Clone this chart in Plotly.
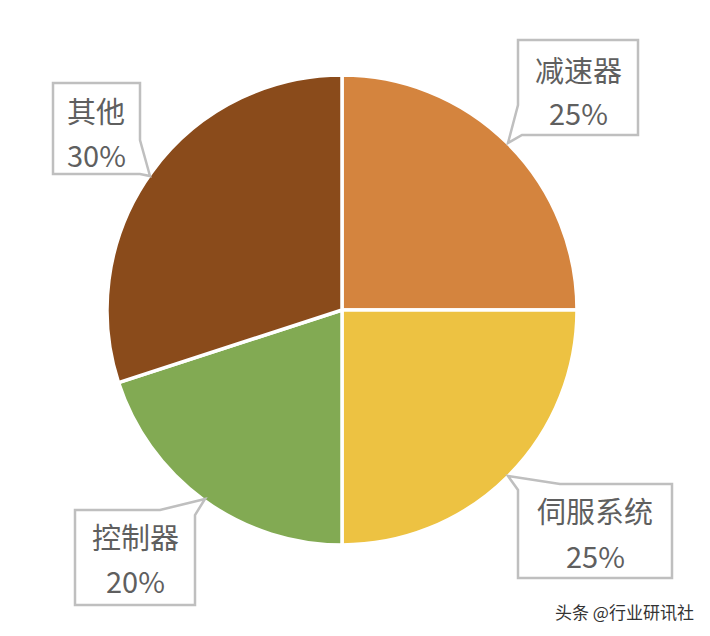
import plotly.graph_objects as go

labels = ["减速器", "伺服系统", "控制器", "其他"]
values = [25, 25, 20, 30]
pct_text = ["25%", "25%", "20%", "30%"]
colors = ["#D4843E", "#EDC242", "#82AA53", "#8A4B1B"]

# page body has an 8px margin; compensate so coordinates match window pixels
OFF = 8
W, H = 710 - OFF, 636 - OFF

def px(x):
    return (x - OFF) / W

def py(y):
    return 1 - (y - OFF) / H

fig = go.Figure(go.Pie(
    labels=labels, values=values, sort=False, direction="clockwise", rotation=0,
    marker=dict(colors=colors, line=dict(color="white", width=3.5)),
    textinfo="none", hoverinfo="label+percent", showlegend=False,
    domain=dict(x=[px(107), px(577)], y=[py(545), py(75)]),
))

# callout outlines (pixel coordinates converted to paper)
callouts = [
    [(518, 40), (638, 40), (638, 135), (522, 135), (508, 143), (518, 105)],
    [(53, 83), (140, 83), (140, 140), (150, 176), (140, 174), (53, 174)],
    [(508, 476), (560, 484), (672, 484), (672, 578), (518, 578), (518, 490)],
    [(75, 510), (160, 510), (205, 499), (195, 515), (195, 605), (75, 605)],
]
for pts in callouts:
    path = "M " + " L ".join(f"{px(x):.5f},{py(y):.5f}" for x, y in pts) + " Z"
    fig.add_shape(type="path", xref="paper", yref="paper", path=path,
                  line=dict(color="#BFBFBF", width=2.5), fillcolor="white", layer="above")

# label positions (center x, line1 y, line2 y)
pos = {
    "减速器": (578, 69, 112),
    "伺服系统": (595, 510, 555),
    "控制器": (135, 536, 580),
    "其他": (96, 110, 154),
}
font = dict(family="Noto Sans CJK SC", size=29, color="#5F5F5F")
for lab, pct in zip(labels, pct_text):
    cx, y1, y2 = pos[lab]
    fig.add_annotation(x=px(cx), y=py(y1), xref="paper", yref="paper", text=lab,
                       showarrow=False, font=font, xanchor="center", yanchor="middle")
    fig.add_annotation(x=px(cx), y=py(y2), xref="paper", yref="paper", text=pct,
                       showarrow=False, font=font, xanchor="center", yanchor="middle")

fig.add_annotation(x=px(696), y=py(611), xref="paper", yref="paper", text="头条 @行业研讯社",
                   showarrow=False, xanchor="right", yanchor="middle",
                   font=dict(family="Noto Sans CJK SC", size=17, color="#333333"))

fig.update_layout(width=W, height=H, margin=dict(l=0, r=0, t=0, b=0),
                  paper_bgcolor="white", plot_bgcolor="white")
fig.write_html("out.html")
